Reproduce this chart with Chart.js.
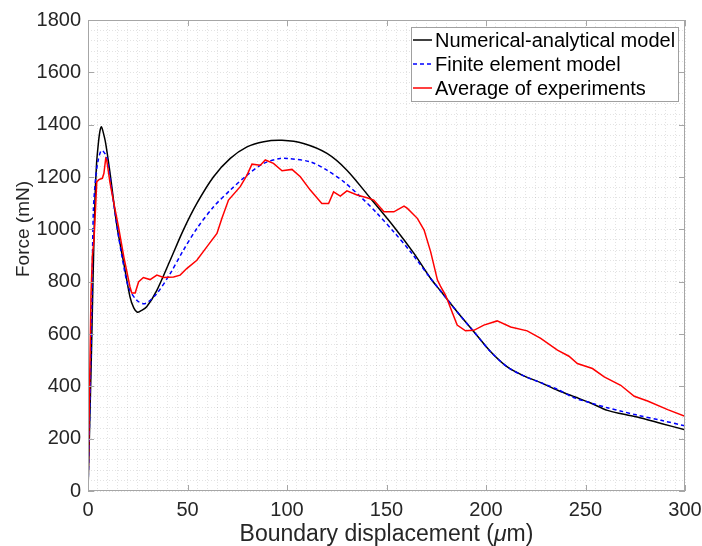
<!DOCTYPE html>
<html lang="en">
<head>
  <meta charset="UTF-8" />
  <title>Force vs boundary displacement</title>
  <script src="https://cdn.jsdelivr.net/npm/chart.js"></script>
  <style>
    html, body { margin: 0; padding: 0; background: #fff; }
  </style>
</head>
<body>
  <canvas id="forceChart" width="702" height="546"></canvas>
  <script>
    // Numerical-analytical model
    const naX = [0, 0.5, 1, 1.8, 2.5, 3.5, 4.3, 5.2, 6, 6.7, 7.4, 8.9, 11.1, 14.6, 18, 21.1, 23, 24.8, 26.5, 29.5, 34.6, 41.3, 47.9, 54.7, 63.1, 71.5, 79.9, 88.3, 97.5, 108.3, 120.1, 130.1, 142, 153.7, 163.8, 172.2, 177, 186, 194, 202, 210.7, 219, 227.5, 236, 244.4, 252, 261, 268, 276, 288, 300];
    const naY = [0, 150, 300, 551, 800, 1112, 1250, 1328, 1375, 1392, 1378, 1328, 1214, 1010, 870, 742, 700, 683, 688, 704, 767, 882, 997, 1099, 1201, 1271, 1315, 1335, 1340, 1328, 1290, 1226, 1118, 1010, 908, 812, 766, 680, 608, 535, 474, 440, 414, 385, 360, 338, 308, 295, 283, 258, 234];

    // Finite element model
    const feX = [0, 1, 2, 2.7, 3.9, 5, 6.5, 7.5, 9.4, 12.2, 14.8, 17, 20.3, 24.5, 28.7, 34.6, 41.3, 47.9, 54.7, 63.1, 71.5, 79.9, 88.3, 96.6, 100, 111.7, 120.1, 128.5, 137, 145.3, 153.7, 162.1, 172.2, 177, 186, 194, 202, 210.7, 219, 227.5, 236, 244.4, 252, 261, 268, 276, 288, 300];
    const feY = [0, 350, 750, 1073, 1201, 1260, 1300, 1300, 1275, 1137, 1000, 900, 780, 729, 716, 755, 831, 920, 1003, 1086, 1150, 1207, 1252, 1271, 1271, 1258, 1226, 1182, 1124, 1061, 990, 914, 812, 766, 680, 608, 535, 474, 440, 414, 388, 356, 338, 318, 305, 290, 270, 249];

    // Average of experiments
    const expX = [0, 0.8, 1.5, 2.2, 3, 3.9, 4.4, 5.5, 7.2, 8, 8.9, 9.4, 11, 12.7, 15.3, 18, 21.1, 22, 23.7, 25.4, 27.8, 31.2, 34.6, 38, 43, 46.3, 49.6, 54.7, 59.7, 64.8, 67.3, 70.6, 76.5, 79.9, 82.4, 86.6, 89.1, 93.2, 97.5, 102.5, 106.7, 111.7, 117.5, 120.9, 123.4, 126.8, 130.1, 135.2, 140.2, 143.6, 148.7, 153.7, 158.8, 160.5, 165.5, 168.9, 172.2, 175.6, 177.1, 179.7, 185.5, 189.7, 193.9, 198.9, 205.6, 212.4, 220.7, 227.5, 235.9, 241.7, 245.9, 253.5, 259.4, 267.7, 274.5, 281.2, 291.3, 300];
    const expY = [0, 400, 750, 900, 958, 1099, 1182, 1190, 1195, 1214, 1271, 1265, 1180, 1112, 1010, 895, 780, 757, 757, 799, 816, 808, 825, 816, 818, 825, 850, 882, 933, 984, 1042, 1112, 1163, 1207, 1249, 1245, 1265, 1252, 1224, 1229, 1201, 1150, 1099, 1099, 1143, 1127, 1147, 1131, 1121, 1112, 1067, 1067, 1089, 1080, 1042, 997, 914, 806, 783, 748, 634, 612, 614, 634, 650, 627, 612, 583, 538, 515, 487, 468, 436, 404, 362, 344, 311, 285];

    const xTicks = [0, 50, 100, 150, 200, 250, 300];
    const yTicks = [0, 200, 400, 600, 800, 1000, 1200, 1400, 1600, 1800];

    const seriesNames = ['Numerical-analytical model', 'Finite element model', 'Average of experiments'];

    const toPoints = (xs, ys) => xs.map((x, i) => ({ x: x, y: ys[i] }));
    const fontFamily = '"Liberation Sans", Arial, Helvetica, sans-serif';
    const textColor = '#262626';
    const axisColor = '#a6a6a6';

    // box, inward tick marks, axis titles and legend drawn on top
    const framePlugin = {
      id: 'frame',
      afterDraw(chart) {
        const { ctx, chartArea: a, scales: { x, y } } = chart;
        ctx.save();
        ctx.strokeStyle = axisColor;
        ctx.lineWidth = 1;
        ctx.strokeRect(Math.round(a.left) + 0.5, Math.round(a.top) + 0.5,
          Math.round(a.right - a.left) - 1, Math.round(a.bottom - a.top) - 1);

        ctx.beginPath();
        xTicks.forEach(v => {
          const px = Math.round(x.getPixelForValue(v)) + 0.5;
          ctx.moveTo(px, a.bottom); ctx.lineTo(px, a.bottom - 6);
          ctx.moveTo(px, a.top); ctx.lineTo(px, a.top + 6);
        });
        yTicks.forEach(v => {
          const py = Math.round(y.getPixelForValue(v)) + 0.5;
          ctx.moveTo(a.left, py); ctx.lineTo(a.left + 6, py);
          ctx.moveTo(a.right, py); ctx.lineTo(a.right - 6, py);
        });
        ctx.stroke();

        // x title with italic mu
        ctx.fillStyle = textColor;
        ctx.textBaseline = 'alphabetic';
        const normal = '23px ' + fontFamily;
        const italic = 'italic 23px ' + fontFamily;
        const parts = [['Boundary displacement (', normal], ['\u03bc', italic], ['m)', normal]];
        let total = 0;
        parts.forEach(p => { ctx.font = p[1]; total += ctx.measureText(p[0]).width; });
        let tx = (a.left + a.right) / 2 - total / 2;
        parts.forEach(p => {
          ctx.font = p[1];
          ctx.fillText(p[0], tx, 541);
          tx += ctx.measureText(p[0]).width;
        });

        // y title
        ctx.save();
        ctx.translate(28.5, 229);
        ctx.rotate(-Math.PI / 2);
        ctx.font = '19px ' + fontFamily;
        ctx.textAlign = 'center';
        ctx.fillText('Force (mN)', 0, 0);
        ctx.restore();

        // legend
        const box = { left: 411, top: 27, right: 678, bottom: 101 };
        ctx.fillStyle = '#fff';
        ctx.fillRect(box.left, box.top, box.right - box.left, box.bottom - box.top);
        ctx.strokeStyle = '#a0a0a0';
        ctx.strokeRect(box.left + 0.5, box.top + 0.5, box.right - box.left, box.bottom - box.top);
        ctx.font = '20px ' + fontFamily;
        ctx.textBaseline = 'middle';
        ctx.textAlign = 'left';
        chart.data.datasets.forEach((ds, i) => {
          const ly = 40 + i * 24;
          ctx.save();
          ctx.strokeStyle = ds.borderColor;
          ctx.lineWidth = ds.borderWidth;
          ctx.setLineDash(ds.borderDash || []);
          ctx.beginPath();
          ctx.moveTo(413, ly); ctx.lineTo(432, ly);
          ctx.stroke();
          ctx.restore();
          ctx.fillStyle = '#000';
          ctx.fillText(ds.label, 435, ly + 1);
        });
        ctx.restore();
      }
    };

    new Chart(document.getElementById('forceChart'), {
      type: 'line',
      data: {
        datasets: [
          {
            label: seriesNames[0],
            data: toPoints(naX, naY),
            borderColor: '#000000',
            borderWidth: 1.5,
            pointRadius: 0,
            tension: 0.3,
            order: 3
          },
          {
            label: seriesNames[1],
            data: toPoints(feX, feY),
            borderColor: '#0000ff',
            borderWidth: 1.5,
            borderDash: [4, 3],
            pointRadius: 0,
            tension: 0.3,
            order: 2
          },
          {
            label: seriesNames[2],
            data: toPoints(expX, expY),
            borderColor: '#ff0000',
            borderWidth: 1.5,
            pointRadius: 0,
            tension: 0,
            order: 1
          }
        ]
      },
      options: {
        responsive: false,
        animation: false,
        devicePixelRatio: 1,
        layout: { padding: { left: 0, top: 20, right: 17, bottom: 0 } },
        scales: {
          x: {
            type: 'linear',
            min: 0,
            max: 300,
            afterFit: s => { s.height = 55; s.paddingLeft = 0; s.paddingRight = 0; },
            ticks: {
              stepSize: 5,
              autoSkip: false,
              maxRotation: 0,
              padding: 7,
              color: textColor,
              font: { family: fontFamily, size: 20 },
              callback: v => (v % 50 === 0 ? v : '')
            },
            grid: { color: 'rgba(0,0,0,0.11)', drawTicks: false, lineWidth: 1 },
            border: { display: false, dash: [1, 2] }
          },
          y: {
            type: 'linear',
            min: 0,
            max: 1800,
            afterFit: s => { s.width = 88; s.paddingTop = 0; s.paddingBottom = 0; },
            ticks: {
              stepSize: 40,
              autoSkip: false,
              padding: 7,
              color: textColor,
              font: { family: fontFamily, size: 20 },
              callback: v => (v % 200 === 0 ? v : '')
            },
            grid: { color: 'rgba(0,0,0,0.11)', drawTicks: false, lineWidth: 1 },
            border: { display: false, dash: [1, 2] }
          }
        },
        plugins: {
          legend: { display: false },
          tooltip: { enabled: false }
        }
      },
      plugins: [framePlugin]
    });
  </script>
</body>
</html>
